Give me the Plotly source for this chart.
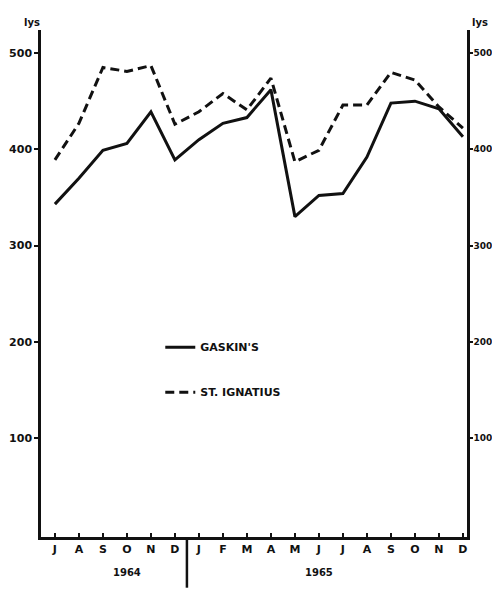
import plotly.graph_objects as go

months = ["J", "A", "S", "O", "N", "D", "J", "F", "M", "A", "M", "J", "J", "A", "S", "O", "N", "D"]
years = ["1964", "1965"]
gaskins = [343, 370, 399, 406, 439, 389, 410, 427, 433, 462, 330, 352, 354, 392, 448, 450, 442, 413]
ignatius = [389, 427, 485, 481, 487, 426, 439, 458, 441, 474, 387, 399, 446, 446, 480, 472, 444, 422]
y_ticks = [100, 200, 300, 400, 500]

x = list(range(len(months)))
ink = "#111111"
FONT = "DejaVu Sans"

fig = go.Figure()
fig.add_trace(go.Scatter(x=x, y=gaskins, mode="lines", name="GASKIN'S",
                         line=dict(color=ink, width=3), legendgroup="g1"))
fig.add_trace(go.Scatter(x=x, y=ignatius, mode="lines", name="ST. IGNATIUS",
                         line=dict(color=ink, width=3, dash="9px,5px"), legendgroup="g2"))
# invisible trace to activate right axis
fig.add_trace(go.Scatter(x=x, y=gaskins, mode="lines", yaxis="y2", showlegend=False,
                         hoverinfo="skip", line=dict(color="rgba(0,0,0,0)")))

yr = [-3, 524]
fig.update_layout(
    width=492, height=588,
    margin=dict(l=33, r=33, t=22, b=59, autoexpand=False),
    paper_bgcolor="white", plot_bgcolor="white",
    font=dict(family=FONT, color=ink, size=11, weight="bold"),
    xaxis=dict(range=[-0.58, 17.17], tickmode="array", tickvals=x, ticktext=months,
               automargin=False,
               showgrid=False, zeroline=False, showline=True, linecolor=ink, linewidth=2.5,
               ticks="inside", ticklen=4, tickwidth=2, tickcolor=ink,
               tickfont=dict(size=11, family=FONT, weight="bold")),
    yaxis=dict(range=yr, tickmode="array", tickvals=y_ticks, showgrid=False, zeroline=False,
               automargin=False,
               showline=True, linecolor=ink, linewidth=2.5, ticks="outside", ticklen=4,
               tickwidth=2, tickcolor=ink, ticklabelstandoff=0,
               tickfont=dict(size=11, family=FONT, weight="bold")),
    yaxis2=dict(range=yr, overlaying="y", side="right", tickmode="array", tickvals=y_ticks,
                automargin=False,
                showgrid=False, zeroline=False, showline=True, linecolor=ink, linewidth=2.5,
                ticks="outside", ticklen=3, tickwidth=2, tickcolor=ink, ticklabelstandoff=-1,
                tickfont=dict(size=9, family=FONT, weight="bold")),
    showlegend=True,
    legend=dict(x=0.28, y=0.403, xanchor="left", yanchor="top", bgcolor="rgba(0,0,0,0)",
                tracegroupgap=26, traceorder="grouped",
                font=dict(size=11, family=FONT, weight="bold")),
)

# divider between years
fig.add_shape(type="line", xref="x", yref="paper", x0=5.5, x1=5.5, y0=0, y1=-0.1,
              line=dict(color=ink, width=2.5))
# year labels
fig.add_annotation(x=3, y=-0.085, xref="x", yref="paper", text=years[0], showarrow=False,
                   font=dict(size=10, family=FONT, weight="bold"))
fig.add_annotation(x=11, y=-0.085, xref="x", yref="paper", text=years[1], showarrow=False,
                   font=dict(size=10, family=FONT, weight="bold"))
# unit labels
fig.add_annotation(x=-0.045, y=1.03, xref="paper", yref="paper", text="lys", showarrow=False,
                   font=dict(size=10, family=FONT, weight="bold"))
fig.add_annotation(x=1.053, y=1.03, xref="paper", yref="paper", text="lys", showarrow=False,
                   font=dict(size=10, family=FONT, weight="bold"))

fig.write_html("out.html")
